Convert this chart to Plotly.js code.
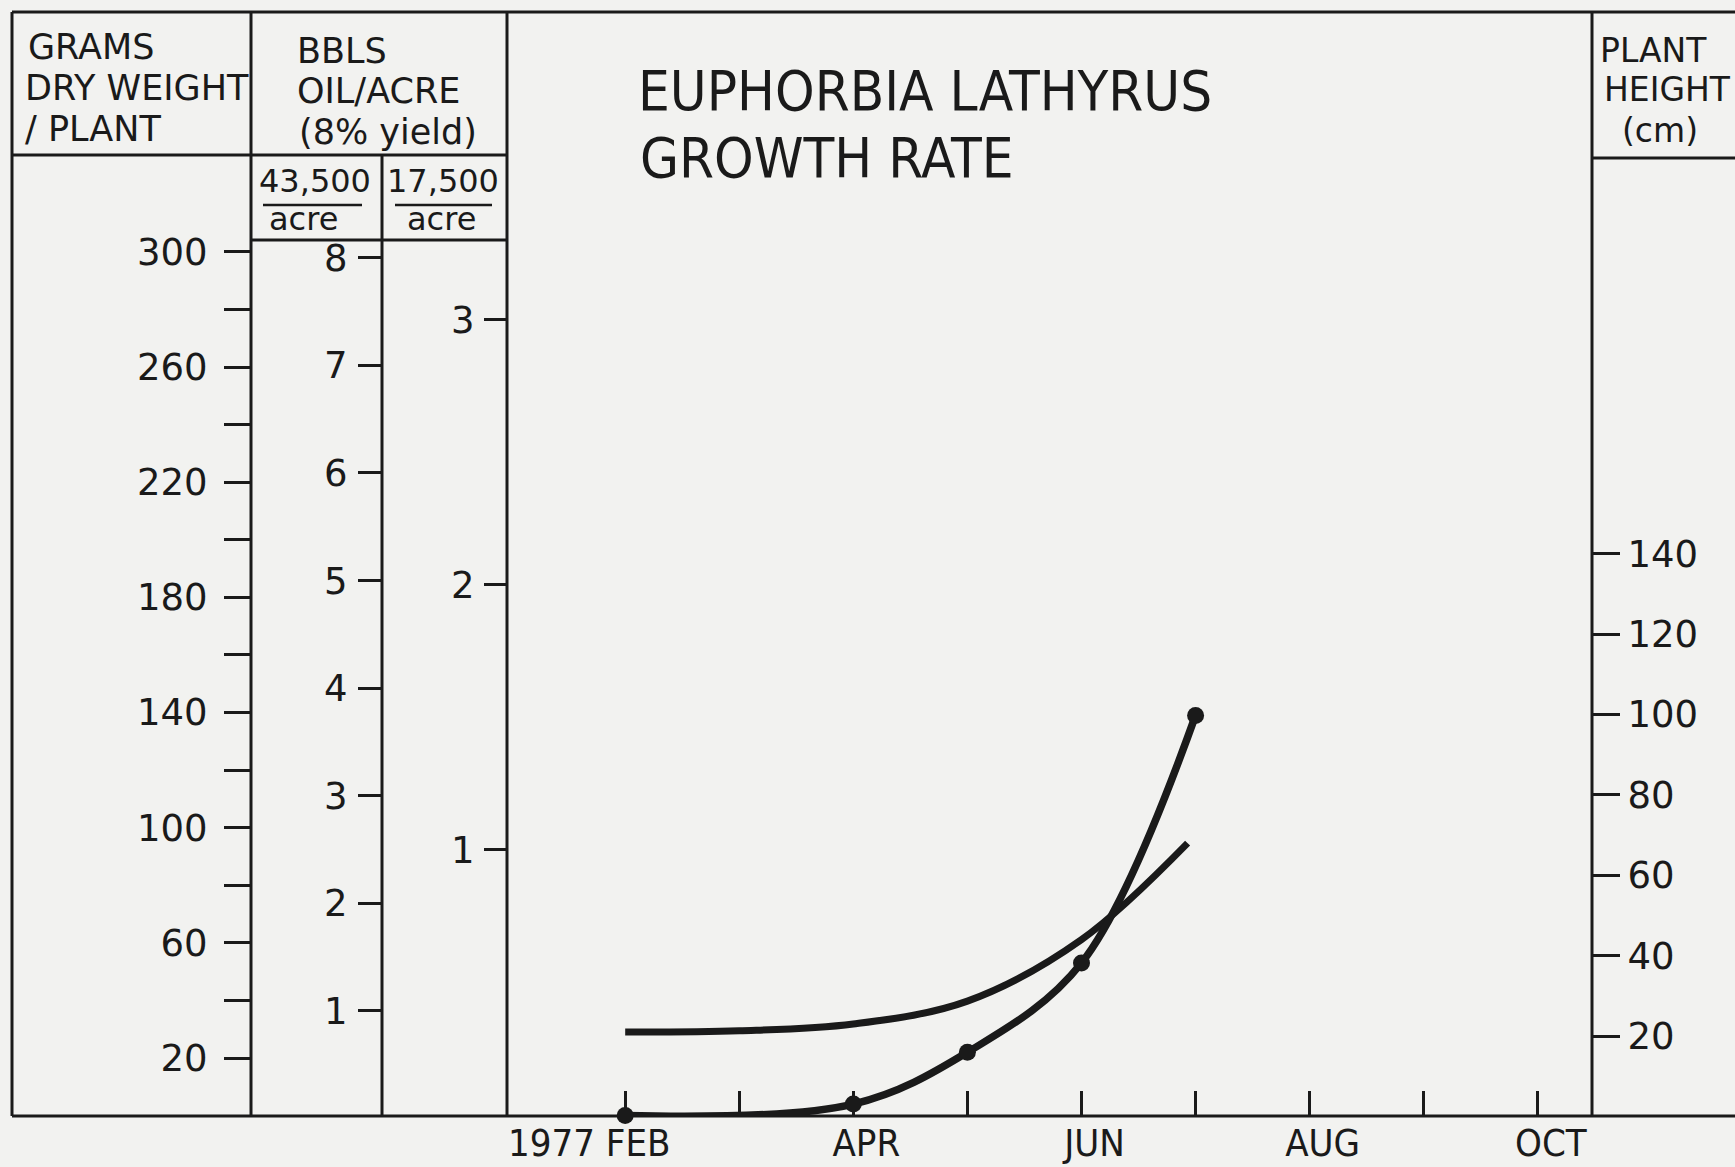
<!DOCTYPE html>
<html>
<head>
<meta charset="utf-8">
<script src="https://cdn.plot.ly/plotly-3.0.1.min.js"></script>
<style>
  html, body { margin: 0; padding: 0; background: #f2f2f0; }
  #chart { width: 1735px; height: 1167px; }
</style>
</head>
<body>
<div id="chart"></div>
<script>
// ---- DATA ----
// Month number: 2 = FEB ... 10 = OCT (1977)
const monthTicks = [2, 3, 4, 5, 6, 7, 8, 9, 10];
const monthLabels = ['FEB', '', 'APR', '', 'JUN', '', 'AUG', '', 'OCT'];

// Dry weight (grams / plant), measured points
const dryMonths = [2, 4, 5, 6, 7];
const dryWeight = [0, 4, 22, 53, 139];

// Plant height (cm), smooth curve readings
const heightMonths = [2, 3, 4, 5, 6, 6.93];
const plantHeight = [21, 21.3, 23, 28.7, 44, 68];

// Axis ticks
const gramsTicks = [20, 40, 60, 80, 100, 120, 140, 160, 180, 200, 220, 240, 260, 280, 300];
const gramsLabels = ['20', '', '60', '', '100', '', '140', '', '180', '', '220', '', '260', '', '300'];
const bbls43Ticks = [1, 2, 3, 4, 5, 6, 7, 8];
const bbls17Ticks = [1, 2, 3];
const heightTicks = [20, 40, 60, 80, 100, 120, 140];

// ---- LAYOUT HELPERS ----
const W = 1735, H = 1167;
const px = v => v / W;
const py = v => 1 - v / H;
const INK = '#1a1a1a';
const TICKFONT = { family: 'DejaVu Sans, Verdana, sans-serif', size: 37, color: INK };
const HEADFONT = { family: 'DejaVu Sans, Verdana, sans-serif', size: 35, color: INK };
const RHEADFONT = { family: 'DejaVu Sans, Verdana, sans-serif', size: 33, color: INK };
const FRACFONT = { family: 'DejaVu Sans, Verdana, sans-serif', size: 32, color: INK };
const NARROW = 'Liberation Sans Narrow, DejaVu Sans Condensed, Roboto Condensed, Arial Narrow, Liberation Sans, sans-serif';
const yDomain = [py(1116), py(12)];

const traces = [
  {
    x: heightMonths, y: plantHeight, yaxis: 'y', xaxis: 'x',
    mode: 'lines', line: { shape: 'spline', smoothing: 1, width: 7, color: INK },
    hoverinfo: 'skip', showlegend: false, cliponaxis: false
  },
  {
    x: dryMonths, y: dryWeight, yaxis: 'y2', xaxis: 'x',
    mode: 'lines+markers', line: { shape: 'spline', smoothing: 1, width: 7.5, color: INK },
    marker: { size: 17, color: INK },
    hoverinfo: 'skip', showlegend: false, cliponaxis: false
  },
  { x: [], y: [], yaxis: 'y3', xaxis: 'x', mode: 'lines', showlegend: false, hoverinfo: 'skip' },
  { x: [], y: [], yaxis: 'y4', xaxis: 'x', mode: 'lines', showlegend: false, hoverinfo: 'skip' }
];

function line(x0, y0, x1, y1, w) {
  return { type: 'line', xref: 'paper', yref: 'paper', x0: px(x0), y0: py(y0), x1: px(x1), y1: py(y1),
           line: { color: INK, width: w || 3 } };
}

const shapes = [
  line(12, 12, 1735, 12),
  line(12, 1116, 1735, 1116),
  line(12, 12, 12, 1116),
  line(251, 12, 251, 1116),
  line(382, 155, 382, 1116),
  line(507, 12, 507, 1116),
  line(1592, 12, 1592, 1116),
  line(12, 155, 507, 155),
  line(251, 240, 507, 240),
  line(1592, 158, 1735, 158),
  line(263, 205, 362, 205, 2.5),
  line(395, 205, 492, 205, 2.5)
];

function ann(text, x, y, font, xanchor) {
  return { text: text, xref: 'paper', yref: 'paper', x: px(x), y: py(y),
           xanchor: xanchor || 'left', yanchor: 'middle', showarrow: false, font: font, align: 'left' };
}

const annotations = [
  ann('GRAMS', 26, 47, HEADFONT),
  ann('DRY WEIGHT', 23, 88, HEADFONT),
  ann('/ PLANT', 23, 129, HEADFONT),
  ann('BBLS', 295, 51, HEADFONT),
  ann('OIL/ACRE', 295, 91, HEADFONT),
  ann('(8% yield)', 297, 132, HEADFONT),
  ann('43,500', 315, 181, FRACFONT, 'center'),
  ann('acre', 303, 219, FRACFONT, 'center'),
  ann('17,500', 443, 181, FRACFONT, 'center'),
  ann('acre', 441, 219, FRACFONT, 'center'),
  ann('PLANT', 1598, 50, RHEADFONT),
  ann('HEIGHT', 1602, 90, RHEADFONT),
  ann('(cm)', 1620, 131, RHEADFONT),
  ann('1977', 506, 1143, { family: NARROW, size: 38, color: INK }),
  ann('GROWTH RATE', 638, 157, { family: NARROW, size: 56, color: INK })
];

const layout = {
  width: W, height: H,
  margin: { l: 0, r: 0, t: 0, b: 0, pad: 0 },
  paper_bgcolor: '#f2f2f0', plot_bgcolor: 'rgba(0,0,0,0)',
  showlegend: false,
  title: { text: 'EUPHORBIA LATHYRUS', x: px(638), xref: 'paper', xanchor: 'left',
           y: py(90), yref: 'paper', yanchor: 'middle',
           font: { family: NARROW, size: 56, color: INK } },
  xaxis: {
    domain: [px(507), px(1592)], range: [0.964, 10.475], anchor: 'y',
    tickvals: monthTicks, ticktext: monthLabels,
    ticks: 'inside', ticklen: 25, tickwidth: 3, tickcolor: INK,
    showline: false, showgrid: false, zeroline: false,
    tickfont: { family: NARROW, size: 38, color: INK },
    ticklabelshift: 13, ticklabelstandoff: 1
  },
  yaxis: {
    domain: yDomain, range: [0.124, 274.75], anchor: 'x', side: 'right',
    tickvals: heightTicks, ticks: 'outside', ticklen: 27, tickwidth: 3, tickcolor: INK,
    showline: false, showgrid: false, zeroline: false, tickfont: TICKFONT,
    ticklabelstandoff: 0
  },
  yaxis2: {
    domain: yDomain, range: [-0.14, 383.3], overlaying: 'y', anchor: 'free', position: px(251), side: 'left',
    tickvals: gramsTicks, ticktext: gramsLabels, ticks: 'outside', ticklen: 27, tickwidth: 3, tickcolor: INK,
    showline: false, showgrid: false, zeroline: false, tickfont: TICKFONT,
    ticklabelstandoff: 9
  },
  yaxis3: {
    domain: yDomain, range: [0.024, 10.284], overlaying: 'y', anchor: 'free', position: px(382), side: 'left',
    tickvals: bbls43Ticks, ticks: 'outside', ticklen: 24, tickwidth: 3, tickcolor: INK,
    showline: false, showgrid: false, zeroline: false, tickfont: TICKFONT,
    ticklabelstandoff: 3
  },
  yaxis4: {
    domain: yDomain, range: [-0.005, 4.161], overlaying: 'y', anchor: 'x', side: 'left',
    tickvals: bbls17Ticks, ticks: 'outside', ticklen: 22, tickwidth: 3, tickcolor: INK,
    showline: false, showgrid: false, zeroline: false, tickfont: TICKFONT,
    ticklabelstandoff: 2
  },
  shapes: shapes,
  annotations: annotations
};

Plotly.newPlot('chart', traces, layout, { staticPlot: true, displayModeBar: false });
</script>
</body>
</html>
